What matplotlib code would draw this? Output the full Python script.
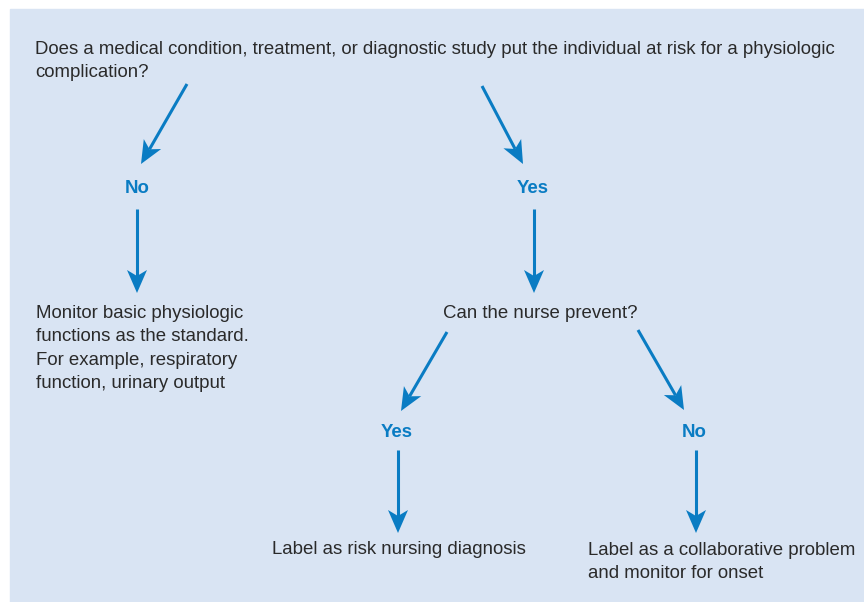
import numpy as np
import matplotlib.pyplot as plt
from matplotlib.patches import Rectangle, Polygon

# flowchart content
question = "Does a medical condition, treatment, or diagnostic study put the individual at risk for a physiologic\ncomplication?"
branch1 = ["No", "Yes"]
monitor_txt = "Monitor basic physiologic\nfunctions as the standard.\nFor example, respiratory\nfunction, urinary output"
prevent_txt = "Can the nurse prevent?"
branch2 = ["Yes", "No"]
risk_txt = "Label as risk nursing diagnosis"
collab_txt = "Label as a collaborative problem\nand monitor for onset"

# arrows (start, end) in pixel coords of the 864x602 picture
arrows = [((187, 84), (141, 164)),
          ((482, 86), (523, 164)),
          ((137, 209), (137, 293)),
          ((534, 209), (534, 293)),
          ((447, 332), (401, 411)),
          ((638, 330), (684, 410)),
          ((398, 450), (398, 533)),
          ((696, 450), (696, 533))]

blue = '#0a7cc3'
dark = '#2a2a2a'
bg = '#d9e4f3'

plt.rcParams['font.family'] = ['Liberation Sans', 'DejaVu Sans']

fig = plt.figure(figsize=(8.64, 6.02), dpi=100)
ax = fig.add_axes([0, 0, 1, 1])
ax.set_xlim(0, 864)
ax.set_ylim(602, 0)
ax.axis('off')

ax.add_patch(Rectangle((10, 9), 860, 600, color=bg, zorder=0))


def draw_arrow(p0, p1, hl=23, hw=10, notch=6):
    p0 = np.array(p0, float)
    p1 = np.array(p1, float)
    d = (p1 - p0) / np.linalg.norm(p1 - p0)
    n = np.array([-d[1], d[0]])
    base = p1 - d * hl
    ax.plot([p0[0], base[0] + d[0] * notch], [p0[1], base[1] + d[1] * notch],
            color=blue, lw=2.2, solid_capstyle='butt', zorder=2)
    pts = [p1, base + n * hw, base + d * notch, base - n * hw]
    ax.add_patch(Polygon(pts, closed=True, color=blue, lw=0, zorder=3))


for a, b in arrows:
    draw_arrow(a, b)

fs = 13.4
ls = 1.5
ax.text(35, 61, question, fontsize=fs, color=dark, va='center', ha='left', linespacing=ls)
ax.text(137, 188.5, branch1[0], fontsize=fs, color=blue, fontweight='bold', ha='center', va='center')
ax.text(533, 188.5, branch1[1], fontsize=fs, color=blue, fontweight='bold', ha='center', va='center')
ax.text(36, 348.5, monitor_txt, fontsize=fs, color=dark, va='center', ha='left', linespacing=ls)
ax.text(540, 314, prevent_txt, fontsize=fs, color=dark, va='center', ha='center')
ax.text(397, 432.5, branch2[0], fontsize=fs, color=blue, fontweight='bold', ha='center', va='center')
ax.text(694, 432.5, branch2[1], fontsize=fs, color=blue, fontweight='bold', ha='center', va='center')
ax.text(399, 550, risk_txt, fontsize=fs, color=dark, va='center', ha='center')
ax.text(588, 562, collab_txt, fontsize=fs, color=dark, va='center', ha='left', linespacing=ls)

plt.savefig('out.png', dpi=100)
